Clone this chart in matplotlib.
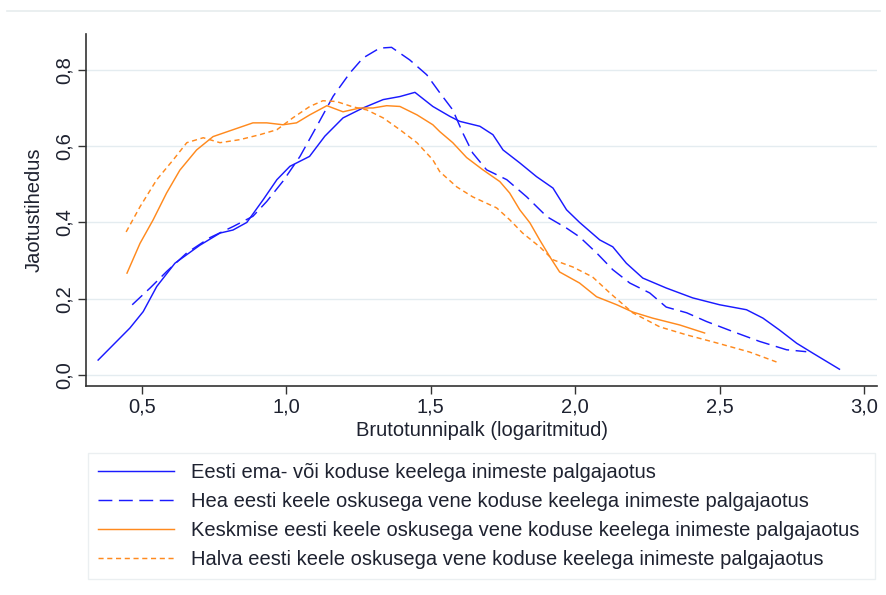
import matplotlib
matplotlib.use("Agg")
import matplotlib.pyplot as plt
from matplotlib.lines import Line2D

plt.rcParams['font.family'] = ['Liberation Sans', 'DejaVu Sans']

# Kernel density estimates of log gross hourly wages, by language group
est_x = [0.348, 0.458, 0.504, 0.551, 0.614, 0.70, 0.77, 0.815, 0.863, 0.92, 0.967, 1.012,
         1.08, 1.133, 1.196, 1.265, 1.335, 1.393, 1.445, 1.507, 1.566, 1.600, 1.670, 1.715,
         1.75, 1.808, 1.866, 1.923, 1.970, 2.015, 2.085, 2.13, 2.177, 2.234, 2.315, 2.407,
         2.5, 2.593, 2.65, 2.707, 2.767, 2.823, 2.915]
est_y = [0.039, 0.123, 0.166, 0.232, 0.293, 0.34, 0.372, 0.38, 0.40, 0.46, 0.512, 0.547,
         0.573, 0.626, 0.674, 0.70, 0.722, 0.73, 0.741, 0.704, 0.678, 0.665, 0.652, 0.63,
         0.59, 0.556, 0.52, 0.49, 0.433, 0.40, 0.354, 0.336, 0.293, 0.254, 0.228, 0.202,
         0.184, 0.171, 0.149, 0.118, 0.083, 0.057, 0.015]

hea_x = [0.466, 0.528, 0.585, 0.655, 0.735, 0.815, 0.884, 0.932, 0.988, 1.047, 1.105, 1.162,
         1.220, 1.265, 1.323, 1.364, 1.427, 1.486, 1.531, 1.576, 1.611, 1.645, 1.693, 1.763,
         1.832, 1.902, 1.970, 2.015, 2.074, 2.13, 2.189, 2.258, 2.315, 2.386, 2.455, 2.545,
         2.638, 2.732, 2.80]
hea_y = [0.184, 0.228, 0.271, 0.32, 0.36, 0.389, 0.416, 0.455, 0.508, 0.573, 0.652, 0.731,
         0.792, 0.831, 0.857, 0.859, 0.826, 0.787, 0.740, 0.695, 0.634, 0.582, 0.538, 0.512,
         0.467, 0.415, 0.385, 0.362, 0.32, 0.276, 0.241, 0.215, 0.178, 0.163, 0.14, 0.114,
         0.088, 0.066, 0.061]

kesk_x = [0.448, 0.493, 0.538, 0.585, 0.631, 0.689, 0.746, 0.815, 0.884, 0.932, 0.988, 1.035,
          1.081, 1.14, 1.196, 1.254, 1.3, 1.347, 1.393, 1.452, 1.507, 1.531, 1.576, 1.624,
          1.680, 1.739, 1.773, 1.808, 1.843, 1.877, 1.912, 1.946, 2.015, 2.074, 2.144, 2.199,
          2.268, 2.362, 2.448]
kesk_y = [0.267, 0.345, 0.406, 0.477, 0.537, 0.59, 0.625, 0.643, 0.661, 0.661, 0.656, 0.661,
          0.682, 0.706, 0.69, 0.70, 0.70, 0.706, 0.704, 0.682, 0.656, 0.638, 0.609, 0.57,
          0.538, 0.507, 0.477, 0.433, 0.399, 0.354, 0.31, 0.27, 0.241, 0.205, 0.184, 0.165,
          0.149, 0.131, 0.11]

halb_x = [0.445, 0.493, 0.551, 0.608, 0.655, 0.712, 0.770, 0.839, 0.908, 0.967, 1.022, 1.081,
          1.126, 1.173, 1.230, 1.278, 1.335, 1.393, 1.452, 1.507, 1.531, 1.590, 1.645, 1.728,
          1.773, 1.818, 1.877, 1.923, 1.992, 2.06, 2.12, 2.199, 2.293, 2.386, 2.490, 2.604,
          2.697]
halb_y = [0.375, 0.441, 0.512, 0.564, 0.609, 0.622, 0.609, 0.617, 0.63, 0.643, 0.674, 0.704,
          0.719, 0.717, 0.703, 0.695, 0.674, 0.643, 0.609, 0.564, 0.533, 0.493, 0.467, 0.438,
          0.407, 0.372, 0.336, 0.302, 0.283, 0.257, 0.215, 0.163, 0.126, 0.105, 0.084, 0.06,
          0.034]

labels = [
    "Eesti ema- või koduse keelega inimeste palgajaotus",
    "Hea eesti keele oskusega vene koduse keelega inimeste palgajaotus",
    "Keskmise eesti keele oskusega vene koduse keelega inimeste palgajaotus",
    "Halva eesti keele oskusega vene koduse keelega inimeste palgajaotus",
]
x_ticks = [0.5, 1.0, 1.5, 2.0, 2.5, 3.0]
y_ticks = [0.0, 0.2, 0.4, 0.6, 0.8]

BLUE = "#1a1aff"
ORANGE = "#ff8a1e"
TEXT = "#1e2230"
FS = 14.5

fig = plt.figure(figsize=(8.86, 5.95), dpi=100)
ax = fig.add_axes([86 / 886, 1 - 386 / 595, (877 - 86) / 886, (386 - 34) / 595])

for yv in y_ticks:
    ax.axhline(yv, color="#e4ecf0", lw=1.0, zorder=0)

lw = 1.05
h1, = ax.plot(est_x, est_y, color=BLUE, lw=lw, label=labels[0])
h2, = ax.plot(hea_x, hea_y, color=BLUE, lw=lw, linestyle=(0, (9.5, 4.5)), label=labels[1])
h3, = ax.plot(kesk_x, kesk_y, color=ORANGE, lw=lw, label=labels[2])
h4, = ax.plot(halb_x, halb_y, color=ORANGE, lw=lw, linestyle=(0, (3.5, 2.5)), label=labels[3])

ax.set_xlim(0.306, 3.045)
ax.set_ylim(-0.029, 0.894)
ax.set_xticks(x_ticks)
ax.set_xticklabels([f"{v:.1f}".replace(".", ",") for v in x_ticks])
ax.set_yticks(y_ticks)
ax.set_yticklabels([f"{v:.1f}".replace(".", ",") for v in y_ticks], rotation=90, va="center")

for side in ("top", "right"):
    ax.spines[side].set_visible(False)
for side in ("left", "bottom"):
    ax.spines[side].set_color("#333333")
    ax.spines[side].set_linewidth(1.2)
ax.tick_params(axis="both", direction="out", length=5.5, width=1.0, color="#333333",
               labelsize=FS, labelcolor=TEXT, pad=3)

ax.set_xlabel("Brutotunnipalk (logaritmitud)", fontsize=FS, color=TEXT, labelpad=3)
ax.set_ylabel("Jaotustihedus", fontsize=FS, color=TEXT, labelpad=8)

# faint border line across the top of the graph region
fig.add_artist(Line2D([7 / 886, 880 / 886], [1 - 11 / 595, 1 - 11 / 595],
                      color="#e6ecee", lw=1.2))

leg = fig.legend(handles=[h1, h2, h3, h4], labels=labels, loc="upper left",
                 bbox_to_anchor=(88 / 886, 1 - 578 / 595, (875 - 88) / 886, (578 - 453) / 595),
                 mode="expand", fontsize=FS, frameon=True, fancybox=False,
                 handlelength=3.75, handletextpad=0.85, labelspacing=0.5,
                 borderpad=0.5, borderaxespad=0.0)
leg.get_frame().set_edgecolor("#e6ecee")
leg.get_frame().set_linewidth(1.0)
for t in leg.get_texts():
    t.set_color(TEXT)

fig.savefig("out.png", dpi=100, facecolor="white")
